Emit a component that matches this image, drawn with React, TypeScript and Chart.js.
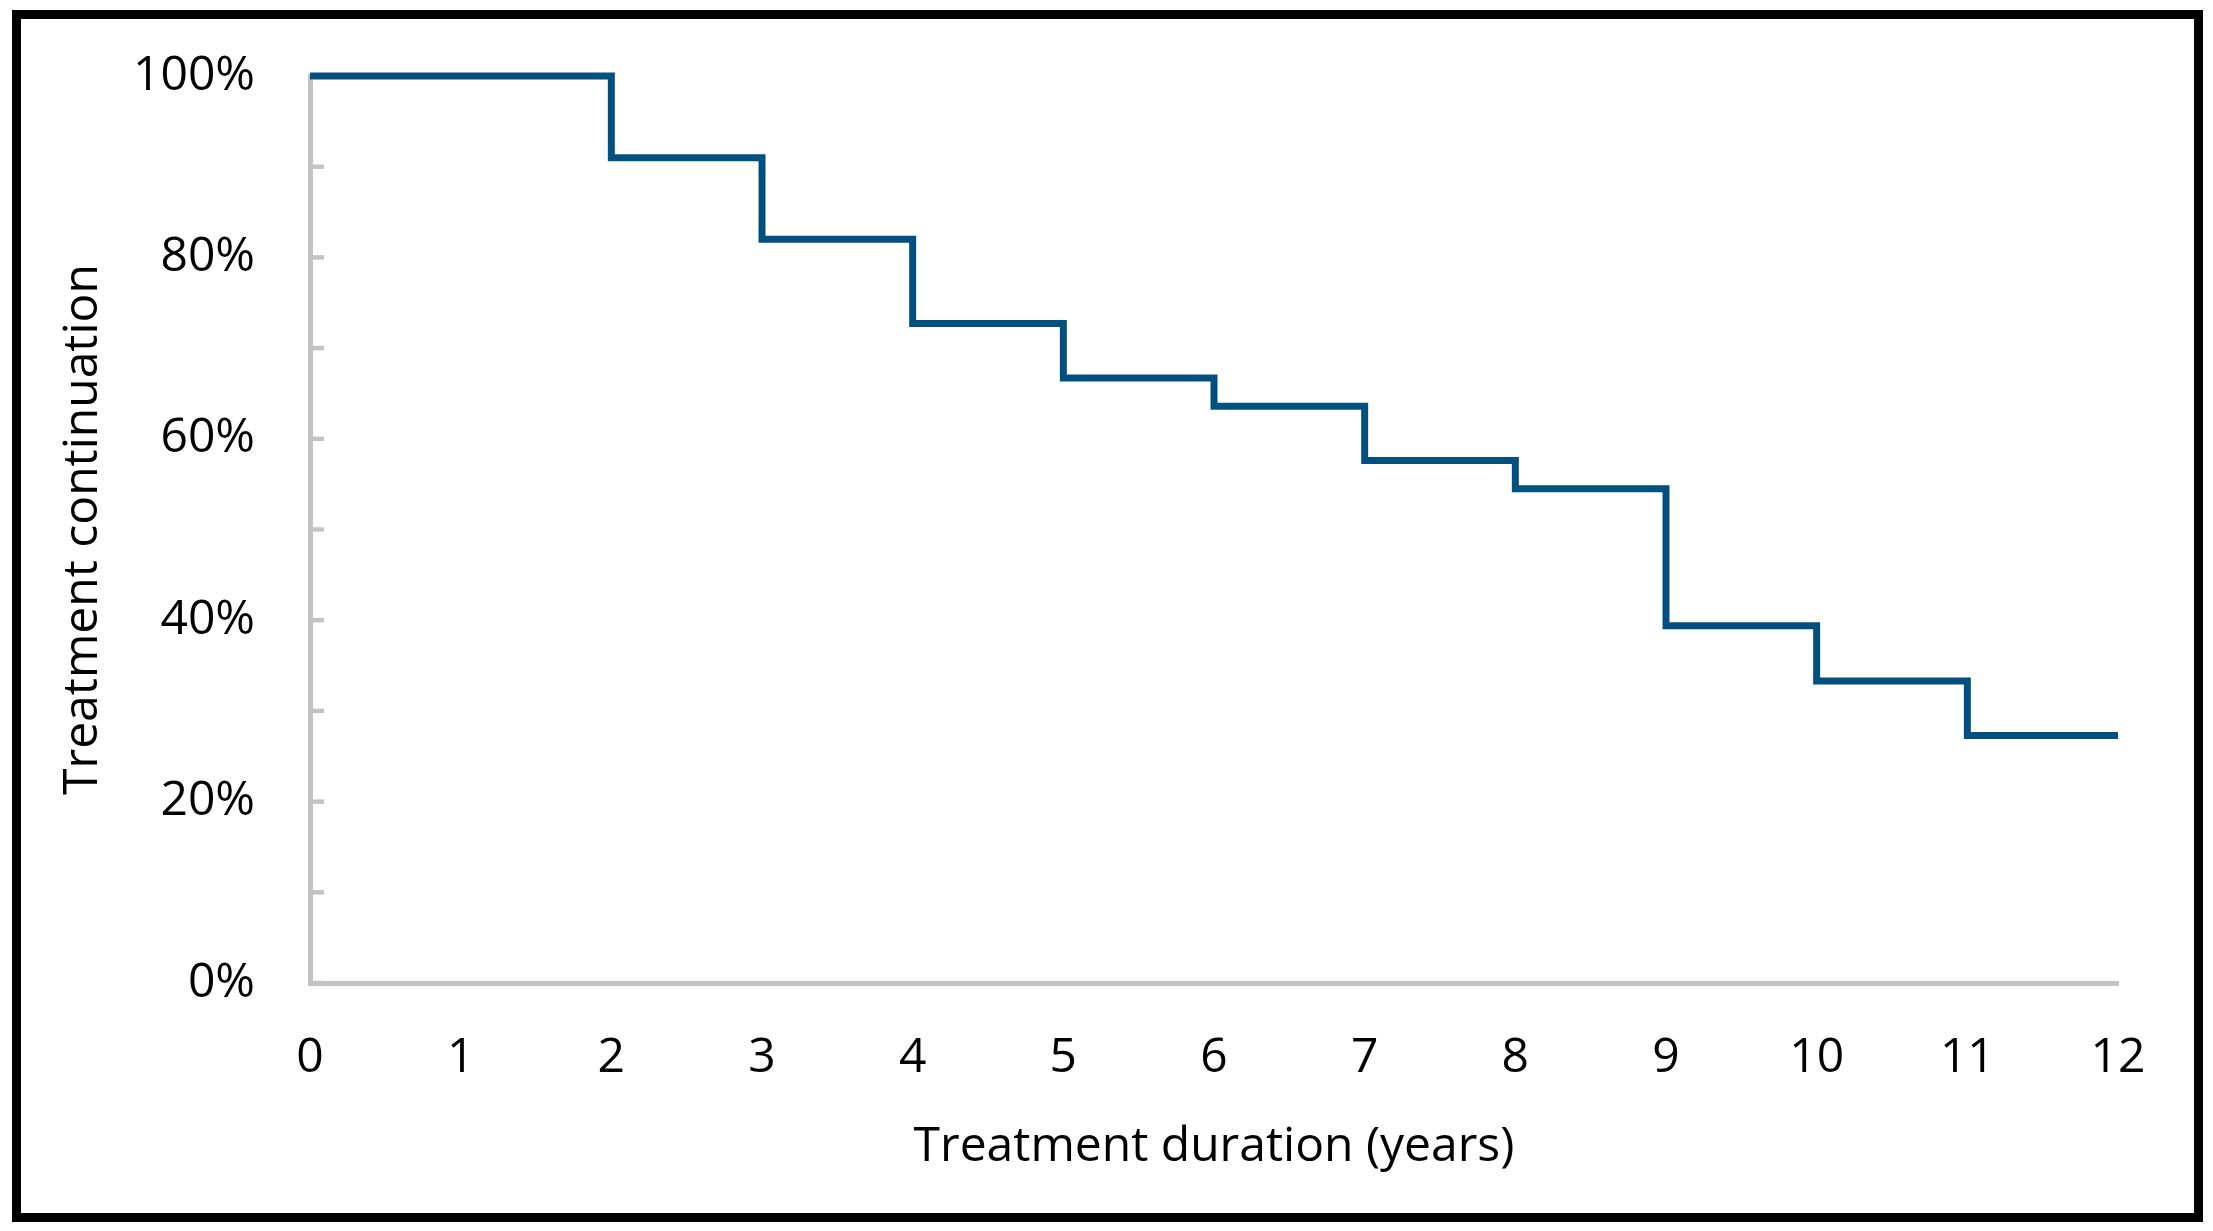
import React, { useEffect, useRef } from "react";
import { Chart, registerables } from "chart.js";

Chart.register(...registerables);

// Step points: value after each drop (years, % still on treatment)
const years = [0, 2, 3, 4, 5, 6, 7, 8, 9, 10, 11, 12];
const continuation = [100, 91, 82, 72.7, 66.7, 63.6, 57.6, 54.5, 39.4, 33.3, 27.3, 27.3];

const xMin = 0;
const xMax = 12;
const yMin = 0;
const yMax = 100;
const yLabelStep = 20; // labelled ticks
const yMinorStep = 10; // inside tick marks

const xTitle = "Treatment duration (years)";
const yTitle = "Treatment continuation";

const FONT = "'Open Sans', 'Noto Sans', sans-serif";
const AXIS_GREY = "#c3c3c3";
const LINE_BLUE = "#02507f";

const insideTicks = {
  id: "insideTicks",
  beforeDatasetsDraw(chart: any) {
    const ys = chart.scales.y;
    const { ctx, chartArea } = chart;
    ctx.save();
    ctx.strokeStyle = AXIS_GREY;
    ctx.lineWidth = 4.5;
    ys.ticks.forEach((t: any) => {
      const py = ys.getPixelForValue(t.value);
      ctx.beginPath();
      ctx.moveTo(chartArea.left, py);
      ctx.lineTo(chartArea.left + 14, py);
      ctx.stroke();
    });
    ctx.restore();
  },
};

export default function App() {
  const canvasRef = useRef<HTMLCanvasElement | null>(null);

  useEffect(() => {
    document.body.style.margin = "0";
    const canvas = canvasRef.current;
    if (!canvas) return;
    const chart = new Chart(canvas, {
      type: "line",
      data: {
        datasets: [
          {
            data: years.map((x, i) => ({ x, y: continuation[i] })),
            borderColor: LINE_BLUE,
            borderWidth: 7,
            stepped: "before",
            pointRadius: 0,
            fill: false,
            borderCapStyle: "butt",
            borderJoinStyle: "miter",
            clip: 12,
          } as any,
        ],
      },
      options: {
        responsive: false,
        animation: false,
        devicePixelRatio: 1,
        events: [],
        layout: { padding: { left: 55, right: 95, top: 76, bottom: 55 } },
        plugins: { legend: { display: false }, tooltip: { enabled: false } },
        scales: {
          x: {
            type: "linear",
            min: xMin,
            max: xMax,
            afterFit: (s: any) => {
              s.height = 193;
              s.paddingLeft = 0;
              s.paddingRight = 0;
            },
            ticks: {
              stepSize: 1,
              color: "#000",
              padding: 47,
              font: { family: FONT, size: 48 },
            },
            grid: { display: true, drawOnChartArea: false, drawTicks: false },
            border: { display: true, color: AXIS_GREY, width: 5 },
            title: {
              display: true,
              text: xTitle,
              color: "#000",
              font: { family: FONT, size: 48 },
              padding: { top: 0, bottom: 0 },
            },
          },
          y: {
            type: "linear",
            min: yMin,
            max: yMax,
            afterFit: (s: any) => {
              s.width = 255;
              s.paddingTop = 0;
              s.paddingBottom = 0;
            },
            ticks: {
              stepSize: yMinorStep,
              color: "#000",
              padding: 55,
              font: { family: FONT, size: 48 },
              callback: (v: any) => (Number(v) % yLabelStep === 0 ? v + "%" : ""),
            },
            grid: { display: true, drawOnChartArea: false, drawTicks: false },
            border: { display: true, color: AXIS_GREY, width: 5 },
            title: {
              display: true,
              text: yTitle,
              color: "#000",
              font: { family: FONT, size: 48 },
              padding: { top: 0, bottom: 0 },
            },
          },
        },
      },
      plugins: [insideTicks],
    });
    return () => chart.destroy();
  }, []);

  return (
    <div style={{ position: "relative", width: 2213, height: 1231, background: "#fff" }}>
      <canvas
        ref={canvasRef}
        width={2213}
        height={1231}
        style={{ position: "absolute", left: 0, top: 0, width: 2213, height: 1231 }}
      />
      <div
        style={{
          position: "absolute",
          left: 12,
          top: 10,
          width: 2191,
          height: 1212,
          border: "9px solid #000",
          boxSizing: "border-box",
          pointerEvents: "none",
        }}
      />
    </div>
  );
}
